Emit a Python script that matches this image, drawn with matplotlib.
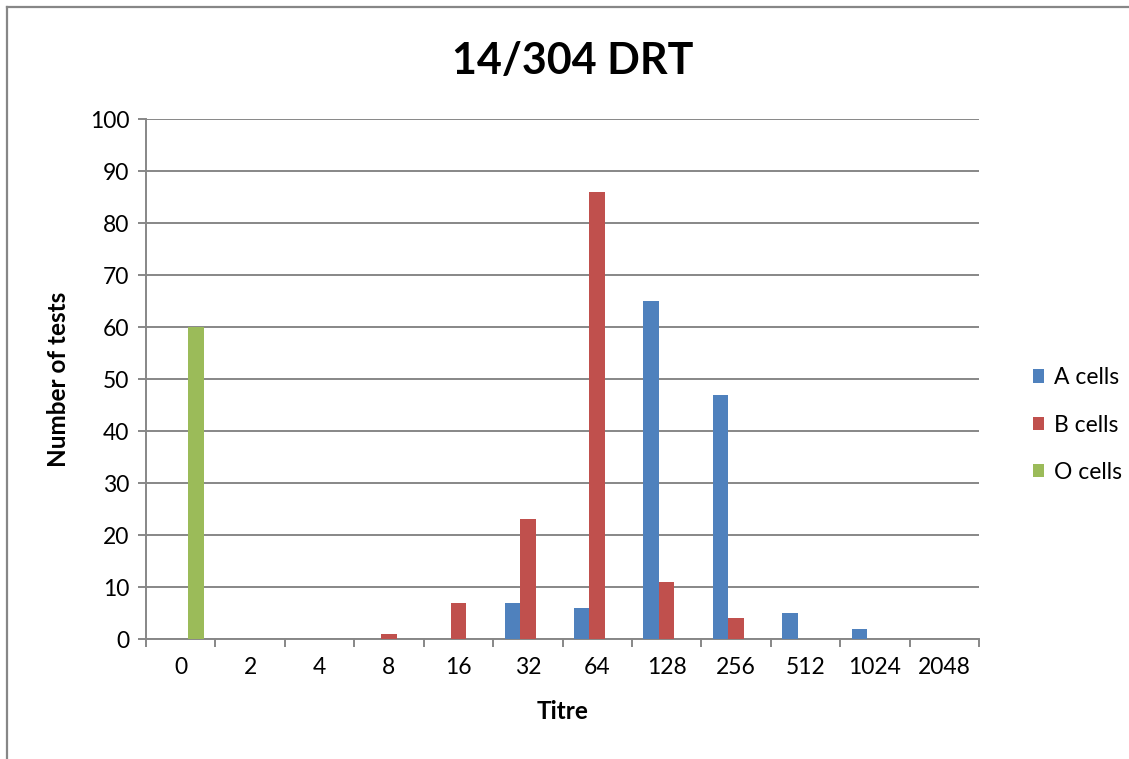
import matplotlib
matplotlib.use("Agg")
import matplotlib.pyplot as plt
from matplotlib.lines import Line2D
from matplotlib.patches import Patch
import numpy as np

categories = ["0", "2", "4", "8", "16", "32", "64", "128", "256", "512", "1024", "2048"]
a_cells = [0, 0, 0, 0, 0, 7, 6, 65, 47, 5, 2, 0]
b_cells = [0, 0, 0, 1, 7, 23, 86, 11, 4, 0, 0, 0]
o_cells = [60, 0, 0, 0, 0, 0, 0, 0, 0, 0, 0, 0]
series_names = ["A cells", "B cells", "O cells"]
colors = ["#4F81BD", "#C0504D", "#9BBB59"]
yticks = [0, 10, 20, 30, 40, 50, 60, 70, 80, 90, 100]

plt.rcParams['font.family'] = ['Lato', 'DejaVu Sans']
grid_c = "#878787"

W, H = 1129, 759
fig = plt.figure(figsize=(W / 100, H / 100), dpi=100)
ax = fig.add_axes([146 / W, 1 - 639 / H, (979 - 146) / W, (639 - 119) / H])

x = np.arange(len(categories))
w = 1 / 4.5
for i, (vals, name, c) in enumerate(zip([a_cells, b_cells, o_cells], series_names, colors)):
    ax.bar(x + (i - 1) * w, vals, width=w, color=c, label=name, zorder=3)

ax.set_xlim(-0.5, len(categories) - 0.5)
ax.set_ylim(0, 100)
ax.set_yticks(yticks)
ax.yaxis.grid(True, color=grid_c, linewidth=1.4, zorder=0)
ax.set_axisbelow(True)

ax.set_xticks(np.arange(-0.5, len(categories), 1.0))
ax.set_xticklabels([])
ax.set_xticks(x, minor=True)
ax.set_xticklabels(categories, minor=True)
ax.tick_params(axis='x', which='major', length=6, width=1.4, color=grid_c, direction='out')
ax.tick_params(axis='x', which='minor', length=0, pad=13, labelsize=16.5)
ax.tick_params(axis='y', length=6, width=1.4, color=grid_c, direction='out', labelsize=16.5, pad=6)

for s in ['top', 'right']:
    ax.spines[s].set_visible(False)
for s in ['left', 'bottom']:
    ax.spines[s].set_color(grid_c)
    ax.spines[s].set_linewidth(1.4)

ax.set_ylabel("Number of tests", fontsize=17.5, fontweight='bold', labelpad=14)
ax.set_xlabel("Titre", fontsize=17.5, fontweight='bold', labelpad=16)
fig.text(573 / W, 1 - 61 / H, "14/304 DRT", fontsize=31, fontweight='bold', ha='center', va='center')

handles = [Patch(facecolor=c, edgecolor='none') for c in colors]
fig.legend(handles, series_names, loc='center left', bbox_to_anchor=(1012 / W, 1 - 425 / H),
           frameon=False, fontsize=16.5, handlelength=0.5, handleheight=0.5,
           handletextpad=0.45, labelspacing=1.15)

fig.add_artist(Line2D([6.5 / W, 6.5 / W], [0, 1 - 6.5 / H], color=grid_c, linewidth=1.6))
fig.add_artist(Line2D([6.5 / W, 1], [1 - 6.5 / H, 1 - 6.5 / H], color=grid_c, linewidth=1.6))

fig.savefig("out.png", dpi=100)
